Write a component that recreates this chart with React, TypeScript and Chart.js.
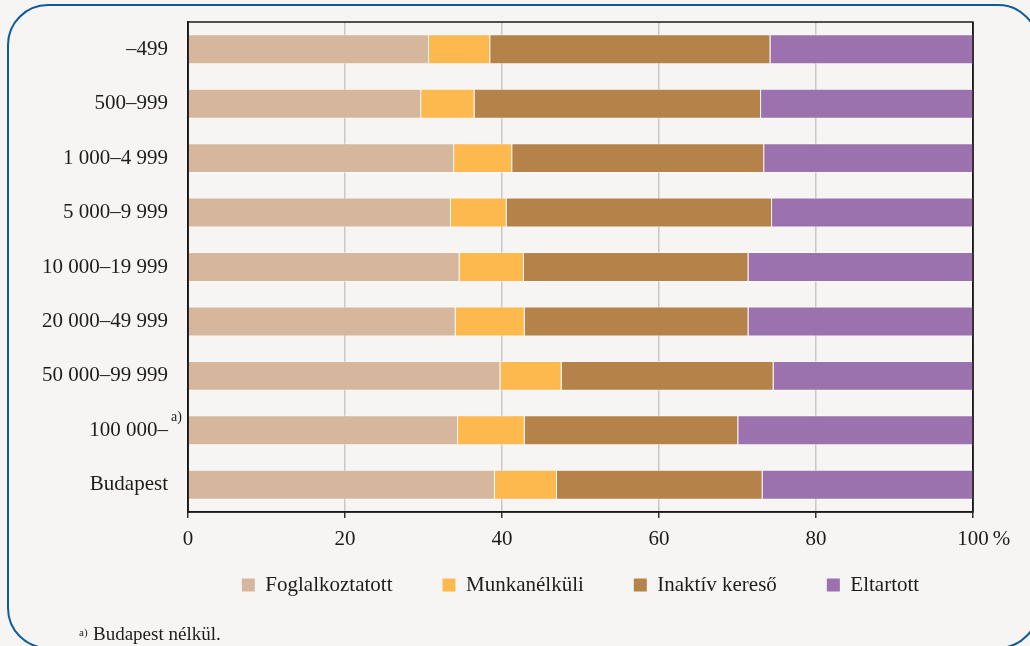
import React, { useEffect, useRef } from "react";
import { Chart, registerables } from "chart.js";

Chart.register(...registerables);

const categories = [
  "–499",
  "500–999",
  "1 000–4 999",
  "5 000–9 999",
  "10 000–19 999",
  "20 000–49 999",
  "50 000–99 999",
  "100 000–",
  "Budapest",
];

const seriesNames = ["Foglalkoztatott", "Munkanélküli", "Inaktív kereső", "Eltartott"];

const foglalkoztatott = [30.7, 29.7, 33.9, 33.5, 34.6, 34.1, 39.8, 34.4, 39.1];
const munkanelkuli = [7.8, 6.8, 7.4, 7.1, 8.2, 8.8, 7.8, 8.5, 7.9];
const inaktivKereso = [35.7, 36.5, 32.1, 33.8, 28.6, 28.5, 27.0, 27.2, 26.2];
const eltartott = [25.8, 27.0, 26.6, 25.6, 28.6, 28.6, 25.4, 29.9, 26.8];

const xTickLabels = ["0", "20", "40", "60", "80", "100"];

const colors = ["#D6B79D", "#FDB94D", "#B5834A", "#9B72AD"];

const FONT = "'Liberation Serif', 'Times New Roman', serif";
const TEXT = "#1c1c1c";

const extrasPlugin = {
  id: "extras",
  afterLayout(chart: any) {
    const lg = chart.legend;
    if (lg) {
      const h = lg.height;
      lg.top = chart.chartArea.bottom + 12.5;
      lg.bottom = lg.top + h;
    }
  },
  afterDraw(chart: any) {
    const { ctx, chartArea } = chart;
    const xs = chart.scales.x;
    const ys = chart.scales.y;
    ctx.save();
    // plot frame
    ctx.strokeStyle = "#1a1a1a";
    ctx.lineWidth = 1.5;
    ctx.strokeRect(chartArea.left, chartArea.top, chartArea.right - chartArea.left, chartArea.bottom - chartArea.top);

    // percent sign after 100
    ctx.fillStyle = TEXT;
    ctx.font = `21px ${FONT}`;
    ctx.textBaseline = "middle";
    ctx.textAlign = "left";
    const w100 = ctx.measureText("100").width;
    const labelY = chartArea.bottom + 6 + 9 + 12.6;
    ctx.fillText("%", xs.getPixelForValue(100) + w100 / 2 + 4, labelY);

    // superscript a) next to "100 000–"
    ctx.font = `14px ${FONT}`;
    ctx.fillText("a)", chartArea.left - 17, ys.getPixelForValue(7) - 13);

    // footnote
    ctx.textBaseline = "alphabetic";
    ctx.font = `11px ${FONT}`;
    ctx.fillText("a)", 79, 636);
    ctx.font = `19px ${FONT}`;
    ctx.fillText("Budapest nélkül.", 93, 640);
    ctx.restore();
  },
};

export default function App() {
  const canvasRef = useRef<HTMLCanvasElement | null>(null);

  useEffect(() => {
    if (!canvasRef.current) return;
    const dataSeries = [foglalkoztatott, munkanelkuli, inaktivKereso, eltartott];
    const chart = new Chart(canvasRef.current, {
      type: "bar",
      data: {
        labels: categories,
        datasets: dataSeries.map((d, i) => ({
          label: seriesNames[i],
          data: d,
          backgroundColor: colors[i],
          borderColor: "rgba(255,255,255,0.45)",
          borderWidth: 1,
          barPercentage: 0.55,
          categoryPercentage: 1,
        })),
      },
      options: {
        indexAxis: "y",
        animation: false,
        responsive: false,
        maintainAspectRatio: false,
        layout: { padding: { left: 20, right: 57, top: 22, bottom: 13 } },
        plugins: {
          tooltip: { enabled: false },
          legend: {
            position: "bottom",
            fullSize: false,
            labels: {
              boxWidth: 13,
              boxHeight: 13,
              padding: 50,
              color: TEXT,
              font: { family: FONT, size: 21 },
              generateLabels(chart: any) {
                const items = Chart.defaults.plugins.legend.labels.generateLabels(chart);
                return items.map((it: any) => ({ ...it, lineWidth: 0, strokeStyle: "rgba(0,0,0,0)" }));
              },
            },
          },
        },
        scales: {
          x: {
            stacked: true,
            min: 0,
            max: 100,
            position: "bottom",
            ticks: {
              stepSize: 20,
              maxRotation: 0,
              padding: 9,
              color: TEXT,
              font: { family: FONT, size: 21 },
              callback: (_v: any, i: number) => xTickLabels[i],
            },
            grid: {
              color: (c: any) => (c.tick && (c.tick.value === 0 || c.tick.value === 100) ? "#1a1a1a" : "#C9C8C6"),
              lineWidth: 1.5,
              tickLength: 6,
              tickColor: "#333",
            },
            border: { color: "#1a1a1a", width: 1.5 },
            afterFit: (s: any) => {
              s.height = 40;
            },
          },
          y: {
            stacked: true,
            grid: { display: false, drawTicks: true, tickLength: 20, tickColor: "rgba(0,0,0,0)" },
            border: { color: "#1a1a1a", width: 1.5 },
            ticks: {
              padding: 0,
              color: TEXT,
              font: { family: FONT, size: 21 },
            },
            afterFit: (s: any) => {
              s.width = 168;
            },
          },
        },
      } as any,
      plugins: [extrasPlugin],
    });
    return () => chart.destroy();
  }, []);

  return (
    <div
      style={{
        position: "fixed",
        left: 0,
        top: 0,
        width: 1030,
        height: 646,
        overflow: "hidden",
        background: "#F6F5F3",
      }}
    >
      <div
        style={{
          position: "absolute",
          left: 7,
          top: 4,
          width: 1032,
          height: 645,
          boxSizing: "border-box",
          border: "2.5px solid #0E5B9C",
          borderRadius: 41,
        }}
      />
      <canvas
        ref={canvasRef}
        width={1030}
        height={646}
        style={{ position: "absolute", left: 0, top: 0, width: 1030, height: 646, display: "block" }}
      />
    </div>
  );
}
